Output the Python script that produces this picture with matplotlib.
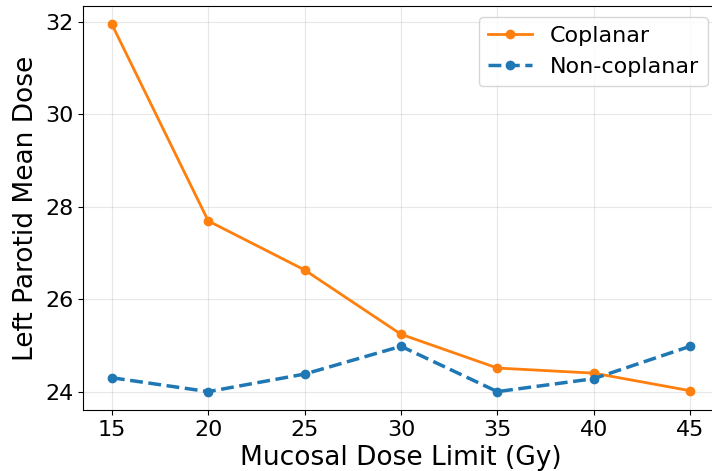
import matplotlib.pyplot as plt

dose_limits = [15, 20, 25, 30, 35, 40, 45]
coplanar = [31.94, 27.69, 26.63, 25.24, 24.51, 24.40, 24.02]
non_coplanar = [24.30, 24.00, 24.38, 24.98, 24.00, 24.28, 24.98]


def generate_plot():
    fig = plt.figure(figsize=(7.12, 4.71), dpi=100)
    # axes run past the right edge, as in the cropped original
    ax = fig.add_axes([83 / 712, 61 / 471, 636 / 712, 404 / 471])

    ax.plot(dose_limits, coplanar, color="#ff7f0e", marker="o",
            linewidth=2, markersize=6, label="Coplanar")
    ax.plot(dose_limits, non_coplanar, color="#1f77b4", marker="o",
            linewidth=2.5, markersize=6, linestyle="--", label="Non-coplanar")

    ax.set_xlabel("Mucosal Dose Limit (Gy)", fontsize=19)
    ax.set_ylabel("Left Parotid Mean Dose", fontsize=19)
    ax.set_xticks(dose_limits)
    ax.set_yticks([24, 26, 28, 30, 32])
    ax.tick_params(labelsize=16)
    ax.grid(True, alpha=0.3)
    ax.legend(fontsize=16, loc="upper right")

    fig.savefig("out.png", dpi=100)
    plt.close(fig)


if __name__ == "__main__":
    generate_plot()
